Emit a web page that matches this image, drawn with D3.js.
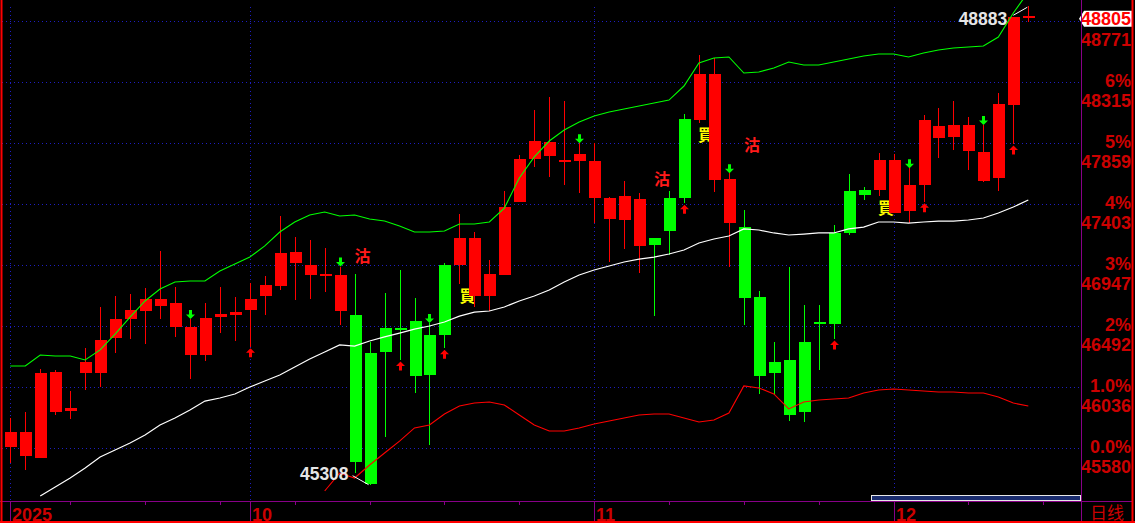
<!DOCTYPE html>
<html><head><meta charset="utf-8">
<script src="https://cdn.jsdelivr.net/npm/d3@7"></script>
<style>html,body{margin:0;padding:0;background:#000;overflow:hidden}svg{display:block}</style>
</head><body><svg id="c" width="1135" height="523"></svg>
<script>
// ---------- data ----------
const opens = [45587,45525,45510,45851,45861,46145,46145,46406,46546,46606,
  46646,46486,46277,46277,46563,46578,46616,46720,46793,46967,
  46875,46870,46608,46576,46290,46479,46476,46531,46426,46950,
  46950,46718,46718,46875,47423,47742,47764,47726,47729,47452,
  47293,47286,47094,47151,47450,48040,48035,47585,47263,47233,
  46710,46225,46240,46374,46517,47189,47502,47510,47510,47340,
  47353,47550,47901,47908,47801,47577,47602,48145,48805];
const highs = [45804,45849,46173,46165,46008,46332,46633,46718,46733,46778,
  47054,46785,46546,46666,46785,46710,46815,46867,47316,47161,
  47136,47079,46938,46882,46377,46738,46912,46701,46516,46962,
  47331,47198,46987,47502,47771,48108,48207,48175,47859,47859,
  47460,47577,47485,47151,47502,48078,48519,48494,47635,47361,
  46755,46374,46935,46651,46651,47248,47630,47532,47787,47779,
  47672,48070,48125,48175,48058,47996,48235,48805,48883];
const lows = [45472,45420,45510,45831,45799,46018,46040,46294,46397,46362,
  46546,46414,46098,46234,46441,46384,46339,46576,46763,46688,
  46696,46750,46501,45399,45308,45667,46240,45991,45605,46327,
  46808,46638,46608,46875,47423,47684,47609,47547,47485,47263,
  46974,47069,46892,46568,47024,47411,48013,47497,46937,46501,
  45986,45978,45784,45776,46165,46397,47174,47439,47465,47336,
  47266,47423,47751,47809,47659,47572,47502,47854,48768];
const closes = [45702,45702,46140,46150,45881,46225,46389,46546,46613,46696,
  46696,46666,46486,46554,46583,46601,46696,46800,47041,47049,
  46950,46876,46875,45480,45315,46302,46471,46122,46130,46426,
  47154,47154,46882,47385,47742,47876,47871,47732,47779,47727,
  47450,47465,47443,47101,47206,47452,48377,48377,47592,46703,
  46122,46143,45829,45853,46511,46509,47192,47473,47734,47734,
  47547,48033,47988,47993,47996,47794,48153,48805,48805];
const upperBand = [46195,46195,46277,46270,46270,46240,46315,46434,46561,46681,
  46770,46823,46830,46830,46905,46957,47009,47092,47196,47271,
  47323,47346,47316,47323,47293,47278,47241,47196,47196,47204,
  47256,47256,47271,47375,47600,47757,47876,47958,48018,48063,
  48093,48115,48138,48160,48182,48287,48459,48496,48504,48384,
  48392,48422,48466,48444,48444,48466,48489,48511,48526,48526,
  48504,48534,48556,48571,48578,48586,48653,48833,48990];
const middleBand = [null,null,45224,45291,45358,45433,45515,45567,45620,45679,
  45754,45806,45866,45933,45956,45986,46038,46083,46128,46187,
  46247,46300,46352,46344,46382,46412,46441,46471,46494,46524,
  46568,46598,46606,46636,46681,46718,46763,46823,46875,46912,
  46942,46972,46994,47009,47032,47062,47114,47144,47166,47219,
  47211,47189,47174,47181,47189,47189,47219,47233,47271,47271,
  47263,47271,47278,47278,47286,47301,47338,47383,47435];
const lowerBand = [null,null,null,null,null,null,null,null,null,null,
  null,null,null,null,null,null,null,null,null,null,
  null,45261,45395,45358,45455,45545,45634,45732,45754,45836,
  45896,45918,45926,45904,45829,45754,45709,45709,45732,45762,
  45784,45806,45829,45836,45836,45806,45777,45791,45844,46046,
  46031,45986,45874,45926,45941,45948,45956,45993,46016,46023,
  46016,46008,46001,46001,45993,45993,45963,45918,45896];
const sellArrowBars = [12,22,28,38,48,60,65];
const buyArrowBars = [16,26,29,45,55,61,67];
const sellTextBars = [23.53,43.53,49.55];
const sellTextPrices = [47017,47596,47850];
const buyTextBars = [30.54,46.47,58.5];
const buyTextPrices = [46725,47925,47379];
const basePrice = 45580;
const pctLevels = [0,1,2,3,4,5,6,7];
const pctLabels = ["0.0%","1.0%","2%","3%","4%","5%","6%",""]; // 7% label is covered by the last-price box
const priceLabels = ["45580","46036","46492","46947","47403","47859","48315","48771"];
const lastPriceLabel = "48805";
const monthTickBars = [0,16,39,59];
const monthLabels = ["2025","10","11","12"];
const weekTickBars = [4,9,14,19,24,29,34,44,49,54,64,69];
const periodLabel = "日线";

// ---------- drawing ----------
const svg = d3.select("#c");
const nBars = opens.length;
const plotL = 2, plotR = 1081, plotB = 501;
const x = d3.scaleLinear().domain([0, 68]).range([10.3, 1028.3]);
const y = d3.scaleLinear().domain([basePrice, basePrice * 1.07]).range([448.3, 448.3 - 7 * 61]);
const RED = "#ff0000", GREEN = "#00ff00", AXR = "#cc0000", PURPLE = "#880088", GRID = "#1e1ec0";

svg.append("rect").attr("width", 1135).attr("height", 523).attr("fill", "#000");
svg.append("defs").append("clipPath").attr("id", "clip")
  .append("rect").attr("x", plotL).attr("y", 0).attr("width", plotR - plotL).attr("height", plotB);

// grid
const gGrid = svg.append("g");
pctLevels.forEach(p => {
  const yy = Math.round(y(basePrice * (1 + p / 100))) + 0.5;
  gGrid.append("line").attr("x1", plotL).attr("x2", plotR).attr("y1", yy).attr("y2", yy)
    .attr("stroke", GRID).attr("stroke-width", 1).attr("stroke-dasharray", "1,3");
});
monthTickBars.forEach(b => {
  const xx = Math.round(x(b)) + 0.5;
  gGrid.append("line").attr("x1", xx).attr("x2", xx).attr("y1", 7).attr("y2", plotB)
    .attr("stroke", GRID).attr("stroke-width", 1).attr("stroke-dasharray", "1,3");
});

const plot = svg.append("g").attr("clip-path", "url(#clip)");

// signal texts (drawn beneath candles)
const cjk = "'Noto Sans CJK TC','Noto Sans CJK SC',sans-serif";
sellTextBars.forEach((b, i) => {
  plot.append("text").attr("x", x(b)).attr("y", y(sellTextPrices[i]) + 6.5)
    .attr("text-anchor", "middle").attr("fill", "#ff1a1a").attr("font-weight", "bold")
    .attr("font-family", cjk).attr("font-size", 16).text("沽");
});
buyTextBars.forEach((b, i) => {
  plot.append("text").attr("x", x(b)).attr("y", y(buyTextPrices[i]) + 6.5)
    .attr("text-anchor", "middle").attr("fill", "#ffff00").attr("font-weight", "bold")
    .attr("font-family", cjk).attr("font-size", 16).text("買");
});

// candles
const idx = d3.range(nBars);
const gC = plot.append("g");
idx.forEach(i => {
  const o = opens[i], c = closes[i];
  const col = c >= o ? RED : GREEN;
  const cx = Math.round(x(i)) + 0.5;
  gC.append("line").attr("x1", cx).attr("x2", cx).attr("y1", y(highs[i])).attr("y2", y(lows[i]))
    .attr("stroke", col).attr("stroke-width", 1).attr("shape-rendering", "crispEdges");
  const top = y(Math.max(o, c)), bot = y(Math.min(o, c));
  const h = Math.max(2, bot - top);
  gC.append("rect").attr("x", cx - 6).attr("width", 12)
    .attr("y", h === 2 ? (top + bot) / 2 - 1 : top).attr("height", h)
    .attr("fill", col).attr("shape-rendering", "crispEdges");
});

// band lines
const mk = arr => d3.line().defined(d => d != null).x((d, i) => x(i)).y(d => y(d));
plot.append("path").attr("d", mk(upperBand)(upperBand)).attr("fill", "none").attr("stroke", GREEN).attr("stroke-width", 1.1);
plot.append("path").attr("d", mk(middleBand)(middleBand)).attr("fill", "none").attr("stroke", "#ffffff").attr("stroke-width", 1.2);
plot.append("path").attr("d", mk(lowerBand)(lowerBand)).attr("fill", "none").attr("stroke", RED).attr("stroke-width", 1.1);

// arrows
sellArrowBars.forEach(b => {
  const cx = Math.round(x(b)) + 0.5, tip = y(highs[b]);
  plot.append("path").attr("fill", GREEN)
    .attr("d", `M${cx-1.5},${tip-9}H${cx+1.5}V${tip-4.5}H${cx+4.5}L${cx},${tip}L${cx-4.5},${tip-4.5}H${cx-1.5}Z`);
});
buyArrowBars.forEach(b => {
  const cx = Math.round(x(b)) + 0.5, tip = y(lows[b]) + 1.5;
  plot.append("path").attr("fill", RED)
    .attr("d", `M${cx-1.5},${tip+9}H${cx+1.5}V${tip+4.5}H${cx+4.5}L${cx},${tip}L${cx-4.5},${tip+4.5}H${cx-1.5}Z`);
});

// extreme labels
const maxI = d3.maxIndex(highs), minI = d3.minIndex(lows);
const exFont = "'Liberation Sans',Arial,sans-serif";
{
  const hx = x(maxI), hy = y(highs[maxI]);
  svg.append("line").attr("x1", hx - 15).attr("y1", hy + 9).attr("x2", hx - 1).attr("y2", hy + 1)
    .attr("stroke", "#ffffff").attr("stroke-width", 1);
  svg.append("text").attr("x", hx - 21).attr("y", hy + 19).attr("text-anchor", "end")
    .attr("fill", "#e6e6e6").attr("font-family", exFont).attr("font-weight", "bold").attr("font-size", 17.5)
    .text(String(highs[maxI]));
  const lx = x(minI), ly = y(lows[minI]);
  svg.append("line").attr("x1", lx - 17).attr("y1", ly - 9).attr("x2", lx - 1).attr("y2", ly)
    .attr("stroke", "#ffffff").attr("stroke-width", 1);
  svg.append("text").attr("x", lx - 21).attr("y", ly - 5).attr("text-anchor", "end")
    .attr("fill", "#e6e6e6").attr("font-family", exFont).attr("font-weight", "bold").attr("font-size", 17.5)
    .text(String(lows[minI]));
}

// right axis labels
const axFont = "'Liberation Sans',Arial,sans-serif";
pctLevels.forEach((p, i) => {
  const gy = y(basePrice * (1 + p / 100));
  if (pctLabels[i]) {
    svg.append("text").attr("x", 1131).attr("y", gy + 4.5).attr("text-anchor", "end")
      .attr("fill", AXR).attr("font-family", axFont).attr("font-weight", "bold").attr("font-size", 18).text(pctLabels[i]);
  }
  svg.append("text").attr("x", 1131).attr("y", gy + 24.5).attr("text-anchor", "end")
    .attr("fill", AXR).attr("font-family", axFont).attr("font-weight", "bold").attr("font-size", 18).text(priceLabels[i]);
});
// last price box
{
  const ly = y(+lastPriceLabel);
  const t = ly + 2 - 8, b = ly + 2 + 8;
  svg.append("path").attr("d", `M1079,${(t+b)/2}L1084,${t}H1132V${b}H1084Z`).attr("fill", "#ffffff");
  svg.append("text").attr("x", 1131).attr("y", b - 1.5).attr("text-anchor", "end")
    .attr("fill", RED).attr("font-family", axFont).attr("font-weight", "bold").attr("font-size", 18).text(lastPriceLabel);
}

// bottom axis
svg.append("line").attr("x1", 0).attr("x2", 1133).attr("y1", 501.5).attr("y2", 501.5).attr("stroke", PURPLE).attr("stroke-width", 1);
svg.append("line").attr("x1", 1081.5).attr("x2", 1081.5).attr("y1", 0).attr("y2", 521).attr("stroke", PURPLE).attr("stroke-width", 1);
weekTickBars.forEach(b => {
  const xx = Math.round(x(b)) + 0.5;
  svg.append("line").attr("x1", xx).attr("x2", xx).attr("y1", 501.5).attr("y2", 505).attr("stroke", PURPLE);
});
monthTickBars.forEach((b, i) => {
  const xx = Math.round(x(b)) + 0.5;
  svg.append("line").attr("x1", xx).attr("x2", xx).attr("y1", 501.5).attr("y2", 521).attr("stroke", PURPLE);
  svg.append("text").attr("x", xx + 1.5).attr("y", 520.5).attr("fill", AXR)
    .attr("font-family", axFont).attr("font-weight", "bold").attr("font-size", 18).text(monthLabels[i]);
});
svg.append("text").attr("x", 1090).attr("y", 518.5).attr("fill", AXR)
  .attr("font-family", "'Noto Sans CJK SC',sans-serif").attr("font-size", 17).text(periodLabel);

// scrollbar
svg.append("rect").attr("x", 871.5).attr("y", 495.5).attr("width", 209).attr("height", 5)
  .attr("fill", "#1a2c6e").attr("stroke", "#e8e8e8").attr("stroke-width", 1);

// red frame
svg.append("line").attr("x1", 1.5).attr("x2", 1.5).attr("y1", 0).attr("y2", 523).attr("stroke", RED).attr("stroke-width", 2);
svg.append("line").attr("x1", 1132.5).attr("x2", 1132.5).attr("y1", 0).attr("y2", 523).attr("stroke", RED).attr("stroke-width", 2);
svg.append("line").attr("x1", 0).attr("x2", 1135).attr("y1", 522).attr("y2", 522).attr("stroke", RED).attr("stroke-width", 2);
</script>
</body></html>
